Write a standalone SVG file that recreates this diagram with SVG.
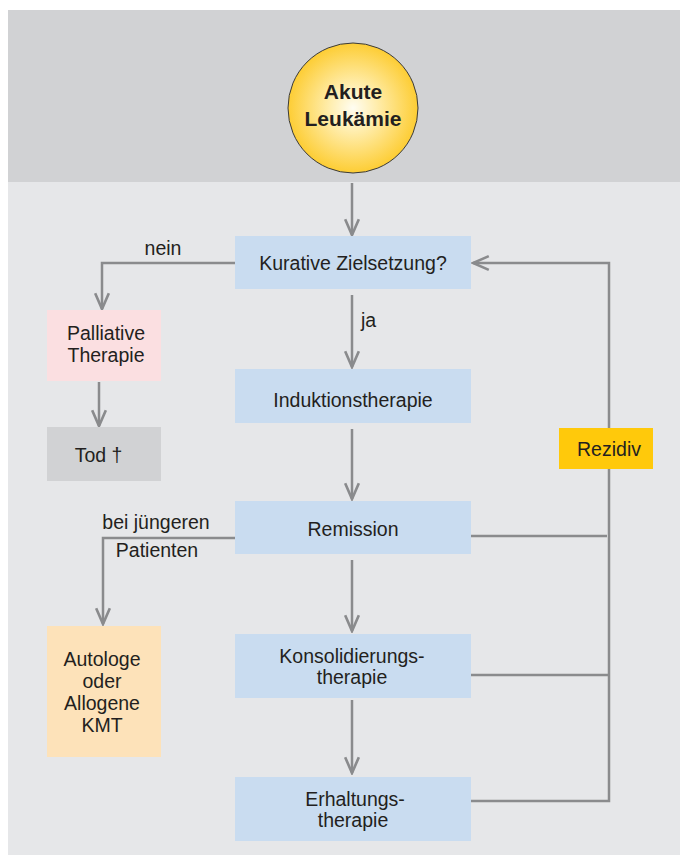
<svg xmlns="http://www.w3.org/2000/svg" width="680" height="855" viewBox="0 0 680 855">
<defs>
<radialGradient id="sun" cx="0.5" cy="0.5" r="0.5">
<stop offset="0" stop-color="#fffdf2"/>
<stop offset="0.35" stop-color="#ffeeb0"/>
<stop offset="1" stop-color="#fdcd34"/>
</radialGradient>
<marker id="ah" markerUnits="userSpaceOnUse" markerWidth="20" markerHeight="20" viewBox="-17 -9 19 18" refX="0" refY="0" orient="auto">
<path d="M-15,-6.5 L0,0 L-15,6.5" fill="none" stroke="#8a8b8d" stroke-width="2.5"/>
</marker>
<style>
.t{font-family:"Liberation Sans",Arial,sans-serif;font-size:19.5px;fill:#231f20;text-anchor:middle}
.b{font-weight:bold;font-size:21px}
.box{fill:#c9dcf0}
.ln{fill:none;stroke:#8a8b8d;stroke-width:2.5}
</style>
</defs>
<rect x="0" y="0" width="680" height="855" fill="#ffffff"/>
<rect x="8" y="10" width="672" height="845" fill="#e6e7e9"/>
<rect x="8" y="10" width="672" height="172" fill="#d1d2d4"/>

<g id="connectors">
<line class="ln" x1="352" y1="183" x2="352" y2="235" marker-end="url(#ah)"/>
<line class="ln" x1="352" y1="295" x2="352" y2="367" marker-end="url(#ah)"/>
<line class="ln" x1="352" y1="429" x2="352" y2="499" marker-end="url(#ah)"/>
<line class="ln" x1="352" y1="560" x2="352" y2="631" marker-end="url(#ah)"/>
<line class="ln" x1="352" y1="700" x2="352" y2="773" marker-end="url(#ah)"/>
<polyline class="ln" points="235,263 102,263 102,309" marker-end="url(#ah)"/>
<line class="ln" x1="99" y1="382" x2="99" y2="426" marker-end="url(#ah)"/>
<polyline class="ln" points="235,538 103,538 103,624" marker-end="url(#ah)"/>
<polyline class="ln" points="471,801 609,801 609,263 473,263" marker-end="url(#ah)"/>
<line class="ln" x1="471" y1="536" x2="607" y2="536"/>
<line class="ln" x1="471" y1="675" x2="609" y2="675"/>
<text class="t" x="163" y="255">nein</text>
<text class="t" x="368.5" y="327">ja</text>
<text class="t" x="156" y="529">bei jüngeren</text>
<text class="t" x="157" y="557">Patienten</text>
</g>

<g id="akute">
<circle cx="353" cy="108" r="65" fill="url(#sun)" stroke="#3a3a3a" stroke-width="1"/>
<text class="t b" x="353" y="99">Akute</text>
<text class="t b" x="353" y="126">Leukämie</text>
</g>

<g id="kurativ">
<rect class="box" x="235" y="236" width="236" height="53"/>
<text class="t" x="353" y="270">Kurative Zielsetzung?</text>
</g>

<g id="induktion">
<rect class="box" x="235" y="369" width="236" height="54"/>
<text class="t" x="353" y="406.5">Induktionstherapie</text>
</g>

<g id="remission">
<rect class="box" x="235" y="501" width="236" height="53"/>
<text class="t" x="353" y="536">Remission</text>
</g>

<g id="konsolidierung">
<rect class="box" x="235" y="634" width="236" height="64"/>
<text class="t" x="352" y="662.5">Konsolidierungs-</text>
<text class="t" x="352" y="683.5">therapie</text>
</g>

<g id="erhaltung">
<rect class="box" x="235" y="777" width="236" height="64"/>
<text class="t" x="355" y="806">Erhaltungs-</text>
<text class="t" x="353" y="827">therapie</text>
</g>

<g id="palliativ">
<rect x="47" y="310" width="114" height="71" fill="#fbdfe1"/>
<text class="t" x="106" y="340">Palliative</text>
<text class="t" x="106" y="362">Therapie</text>
</g>

<g id="tod">
<rect x="47" y="427" width="114" height="54" fill="#d1d2d4"/>
<text class="t" x="98.5" y="462">Tod †</text>
</g>

<g id="kmt">
<rect x="47" y="626" width="114" height="131" fill="#fde2b9"/>
<text class="t" x="102" y="666">Autologe</text>
<text class="t" x="102" y="688">oder</text>
<text class="t" x="102" y="710">Allogene</text>
<text class="t" x="102" y="732">KMT</text>
</g>

<g id="rezidiv">
<rect x="559" y="428" width="94" height="41" fill="#ffc90b"/>
<text class="t" x="609" y="456">Rezidiv</text>
</g>
</svg>
